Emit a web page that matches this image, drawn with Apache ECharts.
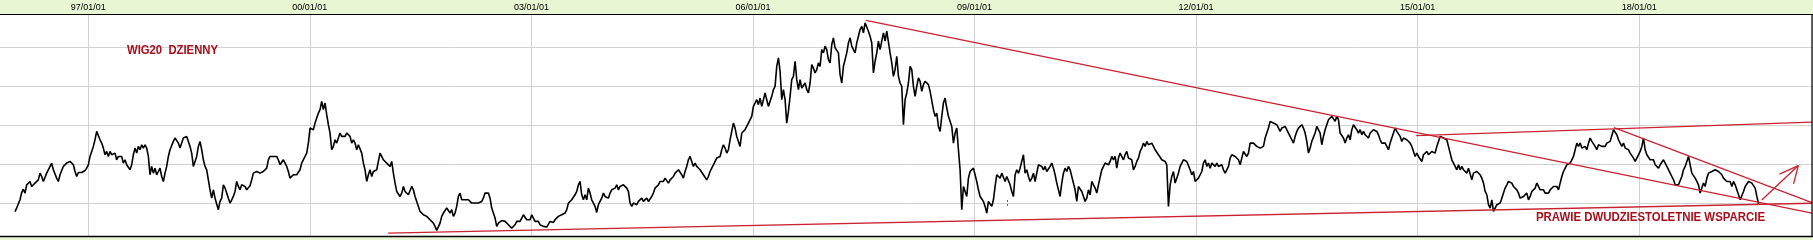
<!DOCTYPE html>
<html><head><meta charset="utf-8">
<script src="https://cdn.jsdelivr.net/npm/echarts@6/dist/echarts.min.js"></script>
<style>html,body{margin:0;padding:0;background:#fff;overflow:hidden}#c{width:1813px;height:240px}</style>
</head><body><div id="c"></div>
<script>
// ---- data ----
const SAMPLE_START_YEAR = 1996.0075;   // first sample, early January 1996
const SAMPLE_STEP_YEARS = 0.02257;     // one sample every ~8.2 days

// 1996 .. early 1999
const wig20Part1 = [1389,1434,1413,1540,1633,1676,1626,1732,1745,1775,
1711,1732,1754,1775,1796,1882,1839,1775,1754,1882,
1925,1946,2011,1925,1903,1818,1775,1861,1882,1968,
1946,2011,1989,2032,2053,1989,1903,1839,1890,1882,
1890,1903,1916,1946,1989,2096,2118,2225,2310,2417,
2396,2310,2267,2203,2118,2160,2096,2160,2118,2096,
2139,2053,2096,2075,2096,2011,2053,1989,1968,1925,
1989,2118,2203,2139,2225,2182,2246,2203,2246,2203,
2096,1861,1968,1882,1946,1861,1903,1946,1839,1775,
1882,1968,2096,2182,2203,2289,2332,2353,2267,2203,
2267,2332,2310,2353,2289,2225,2139,1968,2032,2096,
2225,2289,2182,2053,1968,1925,1796,1668,1561,1668,
1561,1540,1413,1519,1561,1732,1690,1626,1561,1498,
1540,1583,1647,1775,1711,1668,1732,1754,1711,1668,
1690];
// 1999 .. mid 2002
const wig20Part2 = [1719,1796,1882,1890,1903,1890,1882,1890,1903,1925,
1946,2053,2096,2118,2096,2075,2096,2053,1989,2011,
2053,2075,1968,1903,1818,1796,1861,1839,1861,1839,
1925,2011,2032,2096,2139,2267,2460,2481,2439,2524,
2503,2653,2696,2803,2696,2781,2631,2503,2396,2182,
2225,2310,2267,2267,2396,2353,2374,2353,2396,2374,
2353,2267,2310,2267,2182,2246,2225,2139,2011,1925,
1775,1861,1925,1839,1903,1882,1925,1946,2139,2096,
2053,2075,2011,2032,1968,2032,1882,1754,1647,1626,
1583,1626,1711,1647,1668,1604,1626,1711,1668,1583,
1519,1455,1391,1370,1348,1370,1327,1306,1284,1306,
1241,1199,1147,1156,1241,1327,1370,1348,1434,1413,
1370,1413,1327,1370,1455,1583,1626,1540,1561,1540,
1519,1540,1519,1498,1519,1498,1489,1498,1477,1519,
1561,1626,1647,1626,1561,1434,1370,1306,1199,1241];
// mid 2002 .. 2005
const wig20Part3 = [1263,1274,1284,1263,1241,1220,1199,1177,1163,1220,
1263,1284,1263,1306,1348,1327,1284,1263,1284,1348,
1306,1263,1241,1263,1220,1233,1199,1220,1190,1199,
1263,1241,1250,1284,1306,1327,1348,1348,1370,1370,
1413,1498,1519,1540,1561,1604,1647,1732,1775,1604,
1540,1604,1540,1690,1626,1540,1519,1455,1378,1477,
1477,1561,1626,1583,1604,1561,1626,1668,1647,1690,
1732,1668,1711,1690,1732,1754,1690,1647,1498,1455,
1498,1519,1477,1519,1540,1561,1519,1540,1561,1519,
1540,1583,1626,1690,1711,1732,1775,1796,1775,1818,
1796,1754,1796,1818,1839,1882,1861,1925,1903,1861,
1818,1903,1968,2053,2096,2075,1968,2011,1968,1946,
1925,1903,1861,1839,1796,1839,1903,1946,1989,2032,
2075,2053,2096,2182,2246,2203,2139,2182,2310,2417,
2524,2460,2353,2289,2225,2396,2374,2439,2460,2524];
// 2006 .. 2009
const wig20Part4 = [2533,2610,2738,2781,2824,2760,2845,2738,2824,2910,
2824,2738,2803,2867,2952,2995,3252,3360,3188,2824,
2952,2824,2524,2674,2867,3081,3124,3317,3081,2952,
3081,2974,2995,3038,2952,2910,3038,3274,3231,3167,
3210,3295,3252,3467,3424,3510,3467,3338,3295,3531,
3617,3488,3510,3424,3145,3038,3252,3338,3424,3552,
3617,3510,3467,3424,3552,3638,3724,3766,3681,3809,
3831,3702,3638,3552,3167,3317,3424,3574,3467,3574,
3681,3574,3702,3681,3424,3295,3124,3210,3381,3124,
3038,2995,2503,2824,2910,3038,3252,3210,2995,2867,
2995,3103,3060,2931,3017,3060,3081,3017,2931,2910,
2696,2610,2653,2481,2417,2610,2781,2845,2717,2610,
2631,2481,2267,2396,2460,2182,1925,1413,1711,1690,
1583,1818,1903,1882,1946,1925,1775,1668,1583,1604,
1519,1455,1370,1519,1498,1455,1540,1711,1861,1882];
// 2009 .. 2012
const wig20Part5 = [1818,1882,1861,1775,1839,1818,1732,1647,1583,1861,
1925,1882,1946,1968,2118,1882,1925,1839,1775,1818,
1882,1775,1882,1989,2011,1968,1925,1968,1903,1925,
1968,2011,1946,1861,1754,1668,1583,1754,1882,1946,
1903,1968,1925,1839,1754,1668,1519,1711,1732,1647,
1626,1519,1561,1668,1604,1775,1754,1690,1626,1732,
1754,1925,1946,2011,2032,1989,2032,2096,2053,2096,
1946,2075,2139,2118,2053,2118,2160,2075,2096,2053,
1925,1968,2032,2075,2160,2203,2267,2225,2289,2246,
2225,2267,2225,2182,2160,2118,2096,2053,2075,2032,
1989,1455,1732,1839,1903,1754,1775,1882,1968,2011,
2053,2075,2032,2053,1925,1861,1903,1775,1754,1818,
1839,1903,2011,2053,1968,2011,1946,2011,1989,1968,
2011,1968,1946,1989,1925,1882,1925,1968,2075,2118,
2139,2096,2118,2053,1989,2075,2160,2182,2096,2139];
// 2012 .. 2016
const wig20Part6 = [2267,2246,2267,2246,2225,2225,2203,2182,2225,2332,
2396,2460,2546,2567,2524,2546,2503,2481,2417,2460,
2460,2481,2503,2396,2353,2310,2267,2353,2417,2460,
2481,2503,2460,2396,2289,2139,2203,2289,2310,2396,
2481,2481,2396,2246,2353,2439,2439,2567,2588,2610,
2588,2546,2610,2567,2396,2417,2332,2267,2332,2374,
2310,2439,2503,2524,2439,2396,2439,2374,2417,2374,
2396,2332,2396,2417,2439,2460,2417,2374,2310,2267,
2289,2267,2225,2182,2267,2332,2396,2460,2417,2396,
2353,2289,2332,2353,2310,2289,2267,2225,2203,2096,
2139,2096,2075,2032,2118,2139,2160,2118,2139,2160,
2160,2139,2225,2289,2353,2374,2332,2353,2310,2225,
2139,2053,2032,1968,1925,1989,1925,1968,1925,1946,
1882,1946,1925,1796,1882,1861,1903,1882,1861,1818,
1754,1647,1604,1477,1434,1540,1391,1434,1477,1455];
// 2016 .. 2019
const wig20Part7 = [1498,1561,1626,1690,1732,1775,1796,1754,1711,1732,
1668,1626,1561,1540,1583,1561,1626,1540,1583,1647,
1626,1690,1754,1711,1668,1647,1668,1626,1647,1626,
1668,1647,1711,1690,1711,1668,1754,1839,1903,1946,
1989,1968,2011,2053,2096,2182,2267,2225,2267,2203,
2182,2225,2182,2267,2332,2289,2267,2225,2182,2246,
2267,2225,2246,2225,2267,2246,2289,2310,2439,2430,
2374,2310,2267,2225,2267,2203,2203,2182,2139,2160,
2075,2032,2075,2096,2160,2225,2332,2182,2118,2096,
2053,2075,2053,1989,1968,1946,1989,2011,2053,2032,
1968,1989,1882,1839,1796,1732,1711,1732,1754,1839,
1925,1968,2032,2096,1989,1882,1903,1818,1775,1732,
1626,1690,1754,1711,1818,1882,1861,1903,1882,1925,
1946,1903,1882,1861,1818,1796,1775,1796,1775,1711,
1775,1732,1711,1604,1540,1519,1647,1711,1732,1775,
1775,1754,1732,1690,1583,1489];

const tickYears = [1997, 2000, 2003, 2006, 2009, 2012, 2015, 2018];
const titleText = 'WIG20  DZIENNY';
const noteText = 'PRAWIE DWUDZIESTOLETNIE WSPARCIE';

// trend lines drawn on the chart: [[year, value], [year, value]]
const supportLine    = [[2001.06, 1112], [2020.34, 1496]];
const resistance2007 = [[2007.53, 3842], [2020.34, 1369]];
const upperLine2015  = [[2014.98, 2364], [2020.34, 2537]];
const downLine2018   = [[2017.66, 2467], [2020.34, 1505]];
const arrowShaft     = [[2019.66, 1538], [2020.155, 1979]];
const arrowBarbA     = [[2019.90, 1869], [2020.155, 1979]];
const arrowBarbB     = [[2020.09, 1744], [2020.155, 1979]];
const smallMark2009  = [[2009.44, 1538], [2009.44, 1465]];

// ---- chart ----
const BASE = 2000;
const values = [].concat(wig20Part1, wig20Part2, wig20Part3, wig20Part4, wig20Part5, wig20Part6, wig20Part7);
const seriesData = values.map((v, i) => [SAMPLE_START_YEAR + i * SAMPLE_STEP_YEARS - BASE, v]);
const toCoord = p => [p[0] - BASE, p[1]];
const lines = [supportLine, resistance2007, upperLine2015, downLine2018, arrowShaft, arrowBarbA, arrowBarbB];

const RED = '#c92231';
const TEXT_RED = '#a80f1c';
const GREEN = '#e8f6d3';

const mctx = document.createElement('canvas').getContext('2d');
function fitScale(text, font, target) { mctx.font = font; return target / mctx.measureText(text).width; }
const TFONT = 'bold 13px "Liberation Sans", Arial, sans-serif';

const chart = echarts.init(document.getElementById('c'), null, {renderer: 'canvas'});
chart.setOption({
  animation: false,
  backgroundColor: '#ffffff',
  grid: {left: -133.25, top: 14, width: 1945.25, height: 227.9, containLabel: false, outerBoundsMode: 'none'},
  xAxis: {
    type: 'value', position: 'top', min: -6, max: 20.34, interval: 3,
    axisLine: {show: false}, axisTick: {show: false},
    splitLine: {show: true, lineStyle: {color: '#d2d2d2', width: 1}},
    axisLabel: {
      show: true, margin: 2, color: '#000', fontSize: 9, fontFamily: '"Liberation Sans", Arial, sans-serif',
      formatter: v => {
        const r = Math.round(v);
        if (Math.abs(v - r) > 1e-6) return '';
        const y = r + BASE;
        if (tickYears.indexOf(y) < 0) return '';
        return String(y % 100).padStart(2, '0') + '/01/01';
      }
    }
  },
  yAxis: {
    type: 'value', min: 1000, max: 3923, interval: 500,
    axisLine: {show: false}, axisTick: {show: false}, axisLabel: {show: false},
    splitLine: {show: true, lineStyle: {color: '#d2d2d2', width: 1}}
  },
  series: [{
    type: 'line', data: seriesData, showSymbol: false, symbol: 'none', sampling: 'none',
    lineStyle: {color: '#000', width: 1.6}, clip: true, silent: true, z: 3,
    markLine: {
      silent: true, symbol: ['none', 'none'], label: {show: false}, animation: false,
      lineStyle: {color: RED, width: 1.3, type: 'solid'},
      emphasis: {disabled: true},
      data: lines.map(l => [{coord: toCoord(l[0])}, {coord: toCoord(l[1])}]).concat([
        [{coord: toCoord(smallMark2009[0]), lineStyle: {type: [2, 2], width: 1}}, {coord: toCoord(smallMark2009[1])}]
      ])
    }
  }],
  graphic: [
    {type: 'rect', z: -10, shape: {x: 0, y: 0, width: 1813, height: 14}, style: {fill: GREEN}, silent: true},
    {type: 'rect', z: 100, shape: {x: 0, y: 236, width: 1813, height: 4}, style: {fill: GREEN}, silent: true},
    {type: 'line', z: 101, shape: {x1: 0, y1: 14.5, x2: 1813, y2: 14.5}, style: {stroke: '#000', lineWidth: 1.2}, silent: true},
    {type: 'line', z: 101, shape: {x1: 0, y1: 236.5, x2: 1813, y2: 236.5}, style: {stroke: '#000', lineWidth: 1.5}, silent: true},
    {type: 'line', z: 101, shape: {x1: 1812, y1: 14, x2: 1812, y2: 237}, style: {stroke: '#000', lineWidth: 1.2}, silent: true},
    {type: 'text', z: 50, x: 127, y: 50, scaleX: fitScale(titleText, TFONT, 91),
      style: {text: titleText, font: TFONT, fill: TEXT_RED, textAlign: 'left', textVerticalAlign: 'middle', verticalAlign: 'middle'}, silent: true},
    {type: 'text', z: 50, x: 1536, y: 217.5, scaleX: fitScale(noteText, TFONT, 229),
      style: {text: noteText, font: TFONT, fill: TEXT_RED, textAlign: 'left', textVerticalAlign: 'middle', verticalAlign: 'middle'}, silent: true}
  ]
});
</script>
</body></html>
